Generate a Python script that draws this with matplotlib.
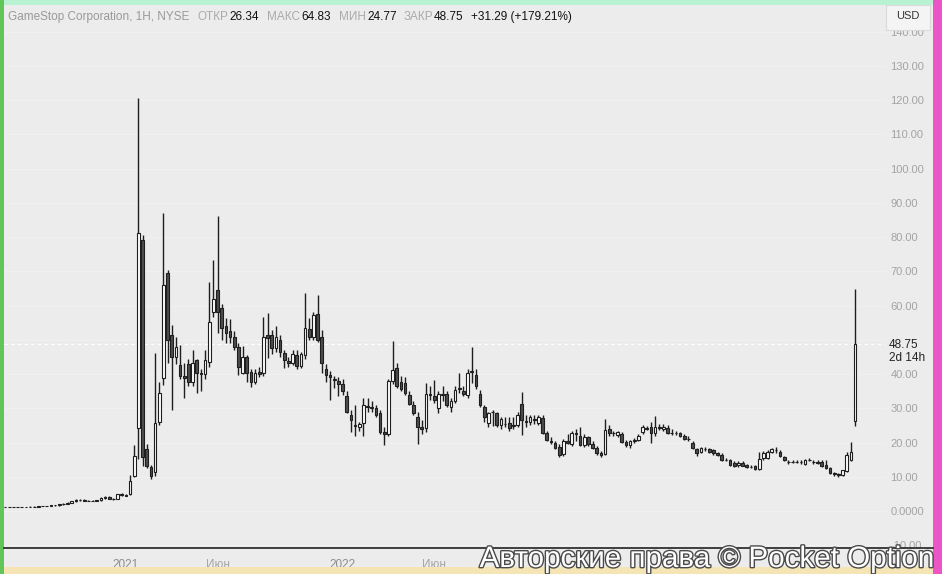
import numpy as np
import pandas as pd
import matplotlib
matplotlib.use('Agg')
import matplotlib.pyplot as plt
from matplotlib import patheffects
from matplotlib.lines import Line2D
from matplotlib.patches import Rectangle

plt.rcParams['font.family'] = ['Liberation Sans', 'DejaVu Sans']

# weekly candles GME (split adjusted)
opens = [1.22, 1.20, 1.24, 1.21, 1.19, 1.22, 1.26, 1.24, 1.30, 1.38,
         1.45, 1.55, 1.70, 1.62, 2.00, 1.95, 2.45, 2.90, 3.30, 3.35,
         2.95, 3.05, 3.00, 3.10, 3.85, 4.00, 3.60, 3.45, 4.90, 4.75,
         4.85, 10.3, 24.2, 79.2, 18.1, 12.9, 11.3, 26.0, 38.9, 69.5,
         51.4, 45.0, 42.6, 39.4, 43.0, 37.7, 44.0, 40.3, 40.0, 43.5,
         58.1, 64.6, 59.3, 54.0, 52.6, 50.8, 47.9, 40.3, 45.0, 40.6,
         37.7, 40.5, 40.3, 51.4, 51.4, 47.6, 50.0, 46.2, 43.8, 43.2,
         45.6, 42.4, 45.6, 53.2, 50.8, 57.6, 50.8, 41.5, 39.8, 38.5,
         38.0, 37.1, 33.6, 28.0, 25.0, 24.5, 25.7, 30.4, 30.1, 30.1,
         28.6, 23.1, 22.5, 38.0, 41.8, 37.7, 37.4, 33.9, 31.0, 27.5,
         24.5, 24.2, 34.2, 33.6, 30.1, 34.0, 34.2, 30.4, 32.1, 35.7,
         35.0, 33.9, 40.5, 39.7, 34.2, 30.4, 25.7, 28.9, 28.6, 25.1,
         25.5, 25.7, 24.8, 25.1, 31.3, 26.2, 26.0, 27.0, 25.7, 27.2,
         22.8, 20.5, 19.9, 18.7, 16.7, 20.5, 19.6, 22.8, 21.9, 19.3,
         21.6, 19.6, 18.4, 16.8, 16.7, 24.0, 22.8, 22.2, 22.5, 20.2,
         19.3, 20.5, 20.7, 23.1, 24.0, 24.5, 22.8, 24.5, 24.0, 24.2,
         22.8, 22.9, 22.8, 21.9, 21.0, 19.9, 18.1, 17.2, 18.1, 18.1,
         17.8, 16.9, 16.4, 14.9, 14.9, 14.0, 13.3, 14.0, 13.4, 12.9,
         13.1, 12.3, 15.5, 15.5, 17.2, 17.8, 17.2, 15.8, 14.3, 14.3,
         14.4, 14.3, 13.7, 14.9, 14.3, 14.3, 14.3, 13.4, 12.6, 11.1,
         10.7, 10.5, 11.7, 14.9, 26.34]
highs = [1.28, 1.27, 1.30, 1.26, 1.25, 1.30, 1.32, 1.33, 1.42, 1.50,
         1.60, 1.75, 1.85, 2.10, 2.20, 2.60, 3.05, 3.50, 3.60, 3.55,
         3.25, 3.20, 3.30, 4.00, 4.40, 4.30, 3.90, 5.00, 5.30, 5.00,
         10.5, 19.3, 120.6, 80.6, 19.5, 13.5, 46.2, 37.7, 87.0, 70.4,
         54.3, 50.8, 48.5, 43.2, 44.5, 47.0, 44.5, 41.5, 47.0, 67.0,
         73.3, 86.2, 60.5, 56.5, 56.0, 52.5, 49.0, 48.2, 45.5, 41.5,
         41.5, 42.0, 56.7, 57.8, 53.0, 54.0, 51.5, 47.0, 45.0, 47.0,
         47.0, 46.5, 63.7, 56.5, 58.0, 63.1, 53.0, 43.0, 41.0, 39.5,
         39.0, 38.5, 35.0, 29.5, 31.0, 26.0, 33.0, 33.0, 32.0, 31.0,
         29.5, 24.5, 38.5, 49.7, 43.2, 39.5, 39.0, 35.0, 32.0, 29.0,
         26.5, 37.4, 36.6, 38.3, 35.0, 36.5, 35.0, 33.0, 36.5, 40.3,
         36.5, 41.5, 47.9, 41.5, 35.3, 31.0, 29.0, 29.5, 29.0, 27.5,
         27.5, 27.5, 27.5, 29.0, 34.8, 28.0, 28.0, 28.0, 28.0, 28.0,
         23.5, 21.5, 20.5, 19.5, 21.0, 22.5, 23.3, 24.0, 24.5, 22.5,
         22.0, 20.5, 19.0, 17.5, 26.9, 25.0, 23.5, 23.5, 23.0, 20.8,
         20.8, 21.2, 22.5, 25.0, 24.8, 26.0, 27.8, 25.5, 25.5, 25.0,
         24.0, 23.5, 23.2, 22.5, 21.8, 20.5, 18.5, 18.7, 18.6, 18.5,
         18.2, 17.3, 16.8, 15.5, 15.2, 14.5, 14.5, 14.5, 13.8, 13.5,
         13.5, 17.2, 17.5, 17.8, 18.5, 18.8, 17.8, 16.2, 14.8, 14.8,
         14.9, 14.9, 15.3, 15.5, 14.8, 15.0, 14.8, 14.8, 12.9, 11.4,
         11.0, 12.0, 17.2, 20.2, 64.83]
lows = [1.18, 1.15, 1.18, 1.15, 1.14, 1.18, 1.20, 1.20, 1.26, 1.32,
        1.40, 1.50, 1.55, 1.58, 1.85, 1.90, 2.35, 2.70, 3.05, 2.85,
        2.80, 2.85, 2.90, 3.00, 3.60, 3.50, 3.30, 3.40, 4.40, 4.30,
        4.70, 9.80, 15.3, 13.0, 12.5, 9.30, 10.1, 25.0, 36.8, 43.2,
        29.5, 43.0, 38.5, 33.0, 36.5, 36.5, 34.5, 35.0, 38.5, 42.0,
        56.7, 52.0, 50.0, 49.0, 49.0, 47.0, 39.7, 40.0, 37.7, 36.2,
        37.0, 39.0, 39.5, 44.7, 46.0, 46.5, 45.0, 41.8, 42.0, 42.5,
        41.5, 41.8, 44.5, 50.0, 50.0, 49.5, 40.3, 37.8, 32.4, 36.0,
        33.5, 34.0, 28.5, 23.0, 21.9, 23.5, 22.0, 29.0, 29.0, 27.5,
        22.5, 19.3, 22.0, 37.0, 36.0, 35.0, 34.0, 31.0, 28.0, 19.6,
        22.5, 23.0, 32.5, 31.5, 28.5, 32.0, 30.5, 29.0, 31.5, 34.5,
        33.5, 33.0, 37.5, 35.5, 30.5, 26.0, 24.5, 24.8, 24.5, 24.0,
        24.5, 23.5, 24.0, 24.5, 22.2, 24.5, 25.0, 25.5, 25.0, 22.5,
        20.5, 19.5, 18.0, 15.8, 16.0, 19.5, 19.0, 20.3, 19.0, 18.8,
        19.0, 18.0, 16.5, 15.8, 16.3, 22.0, 22.0, 21.5, 20.0, 18.8,
        18.5, 20.0, 20.3, 22.5, 23.6, 19.9, 22.0, 23.8, 23.5, 22.5,
        22.3, 22.3, 21.5, 20.8, 20.5, 18.0, 16.0, 16.8, 17.5, 16.9,
        16.5, 16.0, 14.5, 14.5, 13.2, 12.8, 12.8, 13.0, 12.6, 12.5,
        12.0, 12.0, 15.0, 15.2, 16.8, 17.0, 15.8, 14.6, 13.8, 13.9,
        14.0, 13.8, 13.5, 14.5, 13.8, 13.8, 12.9, 12.4, 10.9, 10.3,
        10.0, 10.2, 11.5, 14.5, 24.77]
closes = [1.20, 1.24, 1.21, 1.19, 1.22, 1.26, 1.24, 1.30, 1.38, 1.45,
          1.55, 1.70, 1.62, 2.00, 1.95, 2.45, 2.90, 3.30, 3.35, 2.95,
          3.05, 3.00, 3.10, 3.85, 4.00, 3.60, 3.45, 4.90, 4.80, 4.45,
          8.80, 16.1, 81.2, 15.9, 13.1, 10.1, 25.7, 34.5, 66.0, 50.0,
          45.0, 48.0, 39.4, 38.8, 37.7, 43.2, 40.3, 40.0, 44.2, 55.2,
          61.9, 58.1, 53.5, 52.0, 50.8, 47.9, 42.0, 45.0, 40.3, 37.7,
          40.3, 39.9, 50.8, 50.5, 47.6, 50.8, 46.5, 44.0, 43.2, 45.9,
          42.4, 45.9, 53.5, 50.8, 57.3, 50.0, 43.2, 39.7, 39.0, 38.3,
          37.0, 35.1, 28.9, 26.6, 24.8, 25.4, 31.0, 30.6, 30.4, 28.0,
          23.1, 22.5, 38.0, 41.2, 36.5, 35.6, 34.5, 31.3, 28.6, 24.5,
          24.0, 34.2, 33.9, 32.4, 34.2, 34.3, 31.0, 32.1, 35.3, 35.9,
          34.2, 40.3, 41.0, 36.5, 31.0, 27.5, 28.6, 28.8, 25.1, 27.0,
          25.4, 24.2, 25.2, 28.0, 26.6, 26.0, 27.5, 26.7, 27.5, 22.8,
          20.7, 20.2, 18.4, 16.4, 20.5, 19.9, 22.8, 22.6, 19.3, 21.6,
          19.6, 18.4, 16.9, 16.4, 23.7, 22.8, 22.7, 23.1, 20.2, 19.3,
          20.5, 20.7, 21.9, 24.5, 24.3, 22.8, 24.5, 24.3, 24.5, 22.8,
          22.9, 22.8, 21.9, 21.0, 21.1, 18.4, 16.9, 18.4, 18.1, 17.2,
          16.9, 16.4, 14.9, 14.9, 13.4, 13.1, 14.0, 13.1, 12.9, 12.9,
          12.3, 15.2, 16.9, 17.2, 18.1, 17.8, 16.1, 14.9, 14.3, 14.2,
          14.4, 14.3, 14.9, 14.9, 14.3, 14.0, 13.1, 12.6, 11.1, 10.8,
          10.5, 12.0, 16.4, 17.2, 48.75]

weeks = pd.date_range('2020-06-15', periods=len(closes), freq='W-MON')
# later labels (2023 ...) sit under the watermark and are not readable
tick_dates = ['2021-01-04', '2021-06-07', '2022-01-03', '2022-06-06']
tick_labels = ['2021', 'Июн', '2022', 'Июн']
# 50.00 is hidden by the last price label
price_ticks = [-10, 0, 10, 20, 30, 40, 60, 70, 80, 90, 100, 110, 120, 130, 140]

bg = '#ececec'
W, H = 942, 574
fig = plt.figure(figsize=(W / 100, H / 100), dpi=100, facecolor=bg)
ax = fig.add_axes([4 / W, 26 / H, 881 / W, 543 / H], facecolor=bg)

o = np.array(opens)
h = np.array(highs)
l = np.array(lows)
c = np.array(closes)
x = np.arange(len(c))
up = c >= o

# faint grid
for p in price_ticks + [50]:
    ax.axhline(p, color='#f0f0f0', lw=0.8, zorder=0)

ax.vlines(x, l, h, color='#1e1e1e', lw=1.0, zorder=2)
ax.bar(x, np.abs(c - o), bottom=np.minimum(o, c), width=0.64,
       color=np.where(up, '#ffffff', '#4d4d4d'), edgecolor='#1e1e1e',
       linewidth=0.8, zorder=3)

# last price line
ax.axhline(closes[-1], color='#ffffff', lw=0.8, ls=(0, (3, 3)), zorder=1)

ax.set_xlim(-0.24, 211.2)
ax.set_ylim(-10.81, 147.8)

xt = weeks.get_indexer(pd.to_datetime(tick_dates))
ax.set_xticks(xt)
ax.set_xticklabels(tick_labels)
for lab, t in zip(ax.get_xticklabels(), tick_labels):
    lab.set_color('#8c8c8c' if t[0].isdigit() else '#a6a6a6')
    lab.set_fontsize(8.5)
ax.tick_params(axis='x', length=0, pad=8)

ax.yaxis.tick_right()
ax.set_yticks(price_ticks)
ax.set_yticklabels(['%.2f' % p if p != 0 else '0.0000' for p in price_ticks])
ax.tick_params(axis='y', length=0, pad=4, labelcolor='#a3a3a3', labelsize=8)

for s in ['top', 'left', 'right', 'bottom']:
    ax.spines[s].set_visible(False)
fig.add_artist(Line2D([4 / W, 933 / W], [26 / H, 26 / H], color='#222222', lw=1.2))

# last price label
fig.text(889 / W, 1 - 345 / H, '48.75', fontsize=8.5, color='#222222', va='center')
fig.text(889 / W, 1 - 358 / H, '2d 14h', fontsize=8.5, color='#222222', va='center')

# USD box (covers most of the 140.00 label like in the screenshot)
fig.add_artist(Rectangle((886 / W, 1 - 30 / H), 44 / W, 25 / H, facecolor='#f4f4f4',
                         edgecolor='#d9d9d9', lw=0.8, transform=fig.transFigure))
fig.text(908 / W, 1 - 16 / H, 'USD', fontsize=8, color='#333333', ha='center', va='center')

# header
ty = 1 - 17 / H
parts = [(8, 'GameStop Corporation, 1H, NYSE', '#999999'),
         (197, 'ОТКР', '#aaaaaa'), (229, '26.34', '#111111'),
         (267, 'МАКС', '#aaaaaa'), (301, '64.83', '#111111'),
         (339, 'МИН', '#aaaaaa'), (367, '24.77', '#111111'),
         (404, 'ЗАКР', '#aaaaaa'), (434, '48.75', '#111111'),
         (471, '+31.29 (+179.21%)', '#111111')]
for px, t, col in parts:
    fig.text(px / W, ty, t, fontsize=8.5, color=col, va='center')

# coloured borders of the screenshot
fig.add_artist(Rectangle((0, 1 - 5 / H), 1, 5 / H, facecolor='#b9f1d3', edgecolor='none',
                         transform=fig.transFigure))
fig.add_artist(Rectangle((0, 0), 4 / W, 1, facecolor='#62c55a', edgecolor='none',
                         transform=fig.transFigure))
fig.add_artist(Rectangle((933 / W, 0), 9 / W, 1, facecolor='#ec55c6', edgecolor='none',
                         transform=fig.transFigure))
fig.add_artist(Rectangle((4 / W, 0), 929 / W, 7 / H, facecolor='#f5e5b4', edgecolor='none',
                         transform=fig.transFigure))

# watermark
wm = fig.text(935 / W, 1 - 559 / H, 'Авторские права © Pocket Option', fontsize=21.3,
              color='white', ha='right', va='center')
wm.set_path_effects([patheffects.withStroke(linewidth=2, foreground='#4a4a4a')])

fig.savefig('out.png', dpi=100, facecolor=bg)
